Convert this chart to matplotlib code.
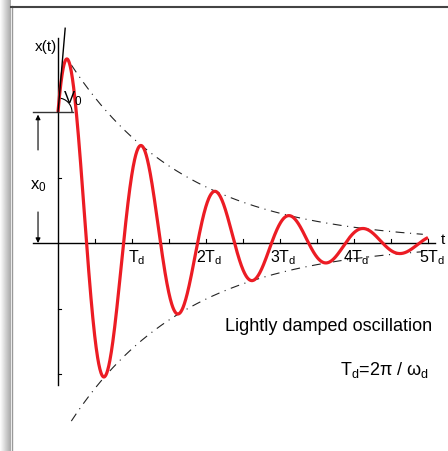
import numpy as np
import matplotlib
matplotlib.use("Agg")
import matplotlib.pyplot as plt
from matplotlib.patches import Arc
from matplotlib.lines import Line2D

plt.rcParams['font.family'] = ['Liberation Sans', 'DejaVu Sans']
plt.rcParams['mathtext.fontset'] = 'custom'
plt.rcParams['mathtext.rm'] = 'Liberation Sans'
plt.rcParams['mathtext.it'] = 'Liberation Sans'

# response in units of x0 and Td
x0 = 1.0
Td = 1.0
sigma = 0.635          # decay rate per Td
B = 1.15               # sin coefficient -> sets v0
t_end = 5.0
env_range = [0.18, 4.93]
tick_pos = [0.5, 1, 1.5, 2, 2.5, 3, 3.5, 4, 4.5, 5]
td_labels = ['T$_\\mathregular{d}$', '2T$_\\mathregular{d}$', '3T$_\\mathregular{d}$',
             '4T$_\\mathregular{d}$', '5T$_\\mathregular{d}$']
td_label_pos = [1.06, 2.04, 3.04, 4.03, 5.06]
yticks = [0.5, -0.5, -1.0]

wd = 2 * np.pi / Td
A = x0 * np.sqrt(1 + B**2)
v0 = -sigma * x0 + wd * B * x0

t = np.linspace(0, t_end, 1000)
x = np.exp(-sigma * t) * (x0 * np.cos(wd * t) + B * x0 * np.sin(wd * t))
te = np.linspace(env_range[0], env_range[1], 300)
env = A * np.exp(-sigma * te)

fig = plt.figure(figsize=(4.48, 4.51), dpi=100)
ax = fig.add_axes([0, 0, 1, 1])
ax.set_xlim(-58 / 74, 390 / 74)
ax.set_ylim(-208 / 131, 243 / 131)
ax.axis('off')

# frame / shadow
grad = fig.add_axes([0, 0, 10 / 448, 1])
grad.imshow(np.linspace(1.0, 0.66, 50)[None, :], cmap='gray', vmin=0, vmax=1,
            aspect='auto', extent=[0, 1, 0, 1])
grad.axis('off')
fig.add_artist(Line2D([11.5 / 448, 11.5 / 448], [0, 1 - 6 / 451], color='#999999', lw=1.0))
fig.add_artist(Line2D([11 / 448, 1], [1 - 6.5 / 451, 1 - 6.5 / 451], color='#444444', lw=1.5))

# axes lines
ax.plot([-0.34, 5.09], [0, 0], color='black', lw=1.0)
ax.plot([0, 0], [-1.084, 1.565], color='black', lw=1.0)
ax.plot([-0.34, 0.2], [x0, x0], color='#333333', lw=1.0)
for p in tick_pos:
    ax.plot([p, p], [0, 0.03], color='black', lw=0.8)
for p in yticks:
    ax.plot([0, 0.04], [p, p], color='black', lw=0.8)

# envelope
ax.plot(te, env, color='#222222', lw=0.8, ls=(0, (8, 5, 1, 5)))
ax.plot(te, -env, color='#222222', lw=0.8, ls=(0, (8, 5, 1, 5)))

# response
ax.plot(t, x, color='#ec1c24', lw=2.3, solid_capstyle='butt', zorder=5)

# initial slope
tt = np.array([0, 0.097])
ax.plot(tt, x0 + v0 * tt, color='black', lw=1.0, zorder=6)
ax.add_patch(Arc((0, x0), 2 * 14 / 74, 2 * 14 / 131, theta1=0, theta2=82,
                 color='black', lw=0.8))

# x0 arrows
arr = dict(arrowstyle='-|>', color='black', lw=0.8, mutation_scale=7, shrinkA=0, shrinkB=0)
ax.annotate('', xy=(-0.27, 0.98), xytext=(-0.27, 0.71), arrowprops=arr)
ax.annotate('', xy=(-0.27, 0.0), xytext=(-0.27, 0.237), arrowprops=arr)

# labels
ax.text(-0.01, 1.496, 'x(t)', ha='right', va='center', fontsize=11)
ax.text(0.065, 1.1, 'V$_\\mathregular{0}$', ha='left', va='center', fontsize=12, zorder=7)
ax.text(-0.27, 0.435, 'x$_\\mathregular{0}$', ha='center', va='center', fontsize=12)
ax.text(5.2, 0.02, 't', ha='center', va='center', fontsize=11)
for lab, p in zip(td_labels, td_label_pos):
    ax.text(p, -0.04, lab, ha='center', va='top', fontsize=11.5)
ax.text(2.26, -0.641, 'Lightly damped oscillation', ha='left', va='center', fontsize=13)
ax.text(3.81, -0.97, 'T$_\\mathregular{d}$=2\u03c0 / \u03c9$_\\mathregular{d}$', ha='left', va='center', fontsize=13)

fig.savefig('out.png', dpi=100)
